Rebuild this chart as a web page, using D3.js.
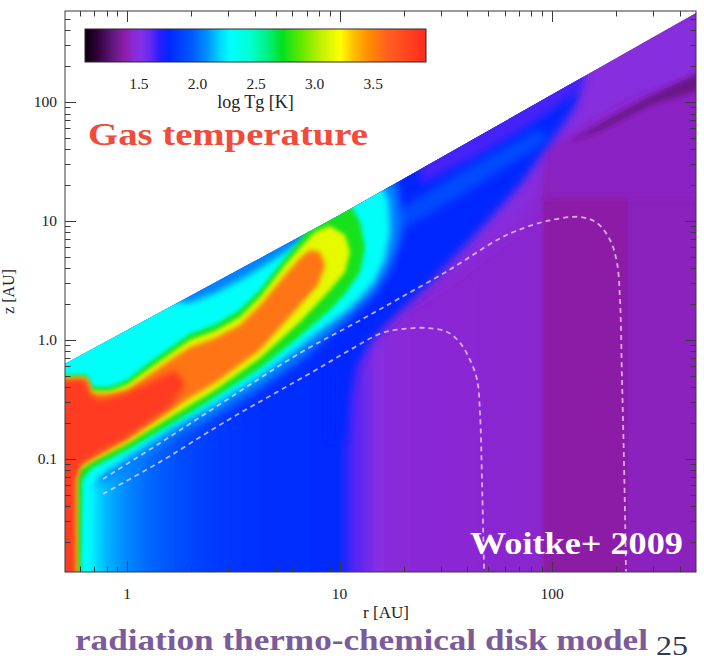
<!DOCTYPE html>
<html>
<head>
<meta charset="utf-8">
<script src="https://cdn.jsdelivr.net/npm/d3@7"></script>
<style>
  html, body { margin: 0; padding: 0; background: #ffffff; }
  svg { display: block; }
  text { font-family: "Liberation Serif", "DejaVu Serif", serif; }
  .axislabel { font-family: "DejaVu Serif", "Liberation Serif", serif; }
</style>
</head>
<body>
<svg id="chart" width="704" height="662"></svg>
<script>
// ---- colour table: log Tg [K] -> colour ----
const cmapValues = [1.04, 1.12, 1.2, 1.28, 1.37, 1.45, 1.52, 1.6, 1.68, 1.76, 1.95, 2.08, 2.2, 2.28, 2.45, 2.6, 2.72, 2.88, 3.05, 3.22, 3.33, 3.45, 3.62, 3.95];
const cmapColors = ["#0a000c", "#28002e", "#460a55", "#601880", "#8c1ca6", "#8a28d4", "#8430e6", "#6028f2", "#2a1cff", "#0028ff", "#0058ff", "#0090ff", "#00dcff", "#00ffff", "#00ffd0", "#00f080", "#00e020", "#60e800", "#c0f000", "#ffff00", "#ffc000", "#ff9000", "#ff6020", "#ff2a20"];
const cbarTicks = [1.5, 2.0, 2.5, 3.0, 3.5];
const cbarTickLabels = ["1.5", "2.0", "2.5", "3.0", "3.5"];

// ---- axes ----
const xTicks = [1, 10, 100];
const xTickLabels = ["1", "10", "100"];
const yTicks = [0.1, 1, 10, 100];
const yTickLabels = ["0.1", "1.0", "10", "100"];

// ---- disk surface z(r) [AU] ----
const surface = [[0.51, 0.63], [10, 11.2], [476, 560]];

// ---- midplane temperature profile: [r, log Tg] ----
const midplaneProfile = [
  [0.45, 2.25], [0.7, 2.22], [0.8, 2.14], [1.0, 2.06], [1.3, 1.98], [1.8, 1.9], [2.6, 1.83],
  [4.0, 1.79], [9.8, 1.77], [11.7, 1.62], [15, 1.5], [19, 1.46], [30, 1.45], [88, 1.44],
  [93, 1.37], [218, 1.37], [234, 1.41], [520, 1.41]
];

// ---- iso-temperature regions, outlines as [r, z] ----
const violetHalo = [[15.5, 39.5], [520, 700], [520, 150], [259.5, 96.2], [168.2, 60.5], [109, 38.0], [87.8, 20.1], [70.7, 10.2], [45.8, 5.71], [29.7, 3.19], [19.26, 1.97], [13.9, 1.21]];
const capPurple = [[92.7, 39.5], [259.5, 103.9], [520, 165], [520, 15.9], [92.7, 15.9]];
const darkStreak = [[520, 185], [289, 112], [168, 65], [121, 46], [168, 57], [289, 94], [520, 130]];
const blueWedge = [[9.02, 39.5], [128.3, 332], [132.6, 103.9], [115, 67.9], [95.8, 43.5], [70.7, 20.1], [43.4, 7.63], [26.7, 3.01], [18.25, 1.59], [14.22, 1.0], [11.96, 0.617], [10.96, 0.313], [10.6, 0.144], [9.02, 0.144]];
const indigoSkin = [[23.9, 70.6], [135.5, 403], [143, 139], [109, 94.4], [70.7, 56.0], [45.8, 35.9], [29.7, 24.4], [23.9, 20.1]];
const blueStripe = [[15.5, 9.81], [36.9, 25.8], [87.8, 60.5], [95.8, 47.9], [41.1, 18.2], [16.37, 6.92]];
const warmHalo = [[0.45, 2.17], [17.29, 39.5], [19.26, 13.6], [19.26, 6.92], [17.29, 4.03], [14.69, 2.48], [10.6, 1.42], [6.52, 0.679], [4.23, 0.395], [2.6, 0.234], [1.59, 0.144], [1.0, 0.0809], [0.707, 0.0605], [0.45, 0.0549]];
const atmosphereCyan = [[0.45, 2.17], [1.283, 2.17], [1.979, 2.05], [2.595, 2.48], [3.402, 3.19], [4.226, 4.03], [5.54, 5.49], [6.52, 6.66], [7.67, 10.2], [9.02, 18.2], [14.69, 26.8], [16.91, 15.0], [17.29, 8.40], [16.37, 4.89], [14.69, 3.19], [12.49, 2.25], [10.6, 1.72], [7.67, 1.12], [6.52, 0.890], [4.23, 0.498], [2.6, 0.290], [1.594, 0.175], [1.0, 0.102], [0.746, 0.0720], [0.684, 0.0549], [0.67, 0.008], [0.45, 0.008]];
const layerGreen = [[0.45, 0.498], [0.641, 0.508], [0.684, 0.403], [0.832, 0.403], [1.0, 0.461], [1.283, 0.653], [1.594, 0.857], [1.979, 1.12], [2.595, 1.34], [3.402, 1.79], [4.226, 2.63], [5.54, 4.89], [6.52, 6.92], [7.67, 11.2], [10.6, 16.5], [12.49, 9.81], [13.18, 5.93], [12.49, 3.73], [10.6, 2.44], [9.02, 1.79], [6.52, 1.08], [4.226, 0.582], [2.595, 0.332], [1.979, 0.244], [1.0, 0.119], [0.684, 0.084], [0.614, 0.0666], [0.601, 0.008], [0.45, 0.008]];
const layerYellow = [[0.45, 0.479], [0.641, 0.489], [0.684, 0.373], [0.832, 0.373], [1.0, 0.419], [1.283, 0.582], [1.594, 0.763], [1.979, 1.0], [2.595, 1.19], [3.402, 1.56], [4.226, 2.30], [5.54, 4.27], [6.52, 5.93], [7.67, 8.08], [9.02, 9.08], [10.6, 7.63], [11.2, 5.49], [10.6, 3.73], [9.02, 2.63], [6.52, 1.42], [4.226, 0.706], [2.595, 0.380], [1.979, 0.284], [1.0, 0.134], [0.684, 0.0944], [0.601, 0.0809], [0.582, 0.0666], [0.582, 0.008], [0.45, 0.008]];
const layerOrange = [[0.45, 0.461], [0.641, 0.470], [0.684, 0.352], [0.832, 0.352], [1.0, 0.380], [1.283, 0.518], [1.594, 0.679], [1.979, 0.873], [2.595, 1.04], [3.402, 1.34], [4.226, 1.97], [5.54, 3.52], [6.52, 4.89], [7.26, 5.71], [8.09, 5.49], [8.55, 4.27], [7.92, 2.90], [6.52, 1.97], [4.226, 0.824], [2.595, 0.435], [1.979, 0.326], [1.0, 0.144], [0.684, 0.100], [0.601, 0.0873], [0.572, 0.0666], [0.572, 0.008], [0.45, 0.008]];
const innerRed = [[0.45, 0.452], [0.528, 0.461], [0.601, 0.470], [0.641, 0.461], [0.67, 0.345], [0.746, 0.313], [1.0, 0.359], [1.283, 0.444], [1.682, 0.560], [1.875, 0.419], [1.594, 0.274], [1.0, 0.153], [0.684, 0.104], [0.601, 0.0891], [0.569, 0.0666], [0.569, 0.008], [0.45, 0.008]];

// log Tg of each region
const regionLogT = [1.49, 1.42, 1.3, 1.75, 1.64, 1.9, 2.05, 2.3, 2.75, 3.15, 3.55, 3.85];

// ---- dashed contours, [r, z] ----
const contourUpper = [[0.771, 0.0679], [1.43, 0.136], [2.89, 0.307], [6.52, 0.777], [12.35, 1.444], [19.26, 2.254], [32.8, 3.875], [55.1, 6.92], [67.7, 8.24], [94.7, 10.0], [135.5, 10.8], [162.8, 9.62], [187.5, 6.92], [202.2, 4.44], [208.9, 2.17], [213.5, 0.461], [218.2, 0.0908], [223, 0.0112]];
const contourLower = [[0.771, 0.0508], [1.43, 0.0944], [2.89, 0.205], [7.59, 0.549], [11.2, 0.824], [15.85, 1.145], [20.1, 1.237], [25.8, 1.261], [32.1, 1.167], [36.9, 0.944], [41.1, 0.679], [44.4, 0.461], [45.8, 0.2435], [46.8, 0.0666], [47.9, 0.0112]];

// ================= drawing =================
const svg = d3.select("#chart");
const defs = svg.append("defs");

const x = d3.scaleLog().domain([0.51, 476]).range([65, 696]);
const y = d3.scaleLog().domain([0.0112, 582]).range([572, 11]);
const tColor = d3.scaleLinear().domain(cmapValues).range(cmapColors).interpolate(d3.interpolateRgb).clamp(true);

const regionShape = d3.line().x(d => x(d[0])).y(d => y(d[1])).curve(d3.curveLinearClosed);
const smoothPath = d3.line().x(d => x(d[0])).y(d => y(d[1])).curve(d3.curveCatmullRom.alpha(0.5));
const straight = d3.line().x(d => x(d[0])).y(d => y(d[1]));

let filterCount = 0;
function blur(sd) {
  const id = "blur" + (filterCount++);
  defs.append("filter").attr("id", id)
    .attr("filterUnits", "userSpaceOnUse")
    .attr("x", -100).attr("y", -100).attr("width", 904).attr("height", 862)
    .append("feGaussianBlur").attr("stdDeviation", sd);
  return "url(#" + id + ")";
}

// disk body (below the surface) used as clip
const [r0, r1] = x.domain();
const [z0, z1] = y.domain();
const diskOutline = surface.concat([[r1, z0], [r0, z0]]);
defs.append("clipPath").attr("id", "disk")
  .append("path").attr("d", straight(diskOutline) + "Z");

const field = svg.append("g").attr("clip-path", "url(#disk)");

// radial (midplane) temperature gradient as the base of the disk
const gx1 = x(midplaneProfile[0][0]);
const gx2 = x(midplaneProfile[midplaneProfile.length - 1][0]);
const mid = defs.append("linearGradient").attr("id", "midplane")
  .attr("gradientUnits", "userSpaceOnUse")
  .attr("x1", gx1).attr("x2", gx2).attr("y1", 0).attr("y2", 0);
midplaneProfile.forEach(([r, t]) => {
  mid.append("stop").attr("offset", (x(r) - gx1) / (gx2 - gx1)).attr("stop-color", tColor(t));
});
field.append("rect")
  .attr("x", gx1).attr("width", gx2 - gx1)
  .attr("y", y(900)).attr("height", y(0.008) - y(900))
  .attr("fill", "url(#midplane)")
  .attr("filter", blur(1.2));

// iso-temperature regions, from the coolest overlay to the hottest
const regions = [violetHalo, capPurple, darkStreak, blueWedge, indigoSkin, blueStripe,
                 warmHalo, atmosphereCyan, layerGreen, layerYellow, layerOrange, innerRed];
const softness = [9, 4, 2.5, 5, 4, 5, 4, 3, 2.2, 2, 2.6, 3];
regions.forEach((pts, i) => {
  field.append("path")
    .attr("d", regionShape(pts))
    .attr("fill", tColor(regionLogT[i]))
    .attr("filter", blur(softness[i]));
});

// dashed contours
[contourUpper, contourLower].forEach(c => {
  field.append("path")
    .attr("d", smoothPath(c))
    .attr("fill", "none")
    .attr("stroke", "#f6d8ff")
    .attr("stroke-opacity", 0.75)
    .attr("stroke-width", 1.8)
    .attr("stroke-dasharray", "5,4");
});

// ---- frame and ticks ----
const [px0, px1] = x.range();
const [py0, py1] = y.range();
const axisG = svg.append("g").attr("stroke", "#3a3a3a").attr("stroke-width", 1);
axisG.append("rect").attr("x", px0).attr("y", py1).attr("width", px1 - px0).attr("height", py0 - py1)
  .attr("fill", "none");

x.ticks().forEach(v => {
  const len = xTicks.includes(v) ? 11 : 5.5;
  const xx = Math.round(x(v)) + 0.5;
  axisG.append("line").attr("x1", xx).attr("x2", xx).attr("y1", py0).attr("y2", py0 - len);
  axisG.append("line").attr("x1", xx).attr("x2", xx).attr("y1", py1).attr("y2", py1 + len);
});
y.ticks().forEach(v => {
  const len = yTicks.some(t => Math.abs(t - v) < 1e-9) ? 11 : 5.5;
  const yy = Math.round(y(v)) + 0.5;
  axisG.append("line").attr("y1", yy).attr("y2", yy).attr("x1", px0).attr("x2", px0 + len);
  axisG.append("line").attr("y1", yy).attr("y2", yy).attr("x1", px1).attr("x2", px1 - len);
});

const labelG = svg.append("g").attr("class", "axislabel").attr("fill", "#222222").attr("font-size", 15.5);
xTicks.forEach((v, i) => {
  labelG.append("text").attr("x", x(v)).attr("y", 599).attr("text-anchor", "middle").text(xTickLabels[i]);
});
yTicks.forEach((v, i) => {
  labelG.append("text").attr("x", px0 - 8).attr("y", y(v) + 5.5).attr("text-anchor", "end").text(yTickLabels[i]);
});
labelG.append("text").attr("x", 386).attr("y", 618).attr("font-size", 17).attr("text-anchor", "middle").text("r [AU]");
labelG.append("text")
  .attr("transform", "translate(14," + ((py0 + py1) / 2) + ") rotate(-90)")
  .attr("font-size", 16)
  .attr("text-anchor", "middle").text("z [AU]");

// ---- colour bar ----
const cbx = d3.scaleLinear().domain([cmapValues[0], cmapValues[cmapValues.length - 1]]).range([85, 426]);
const cbGrad = defs.append("linearGradient").attr("id", "cbar")
  .attr("x1", 0).attr("x2", 1).attr("y1", 0).attr("y2", 0);
cmapValues.forEach((v, i) => {
  cbGrad.append("stop")
    .attr("offset", (cbx(v) - cbx.range()[0]) / (cbx.range()[1] - cbx.range()[0]))
    .attr("stop-color", cmapColors[i]);
});
svg.append("rect")
  .attr("x", cbx.range()[0]).attr("y", 29)
  .attr("width", cbx.range()[1] - cbx.range()[0]).attr("height", 33)
  .attr("fill", "url(#cbar)").attr("stroke", "#2a2a2a").attr("stroke-width", 1);
cbarTicks.forEach((v, i) => {
  labelG.append("text").attr("x", cbx(v)).attr("y", 89).attr("text-anchor", "middle").text(cbarTickLabels[i]);
});
labelG.append("text").attr("x", (cbx.range()[0] + cbx.range()[1]) / 2).attr("y", 108)
  .attr("font-size", 18).attr("text-anchor", "middle").text("log Tg [K]");

// ---- annotations ----
svg.append("text").attr("x", 88).attr("y", 145)
  .attr("font-size", 32).attr("font-weight", "bold").attr("fill", "#f24b3c")
  .attr("textLength", 280).attr("lengthAdjust", "spacingAndGlyphs")
  .text("Gas temperature");
svg.append("text").attr("x", 470).attr("y", 554)
  .attr("font-size", 31).attr("font-weight", "bold").attr("fill", "#ffffff")
  .attr("textLength", 213).attr("lengthAdjust", "spacingAndGlyphs")
  .text("Woitke+ 2009");
svg.append("text").attr("x", 75).attr("y", 650)
  .attr("font-size", 30).attr("font-weight", "bold").attr("fill", "#7a5b9b")
  .attr("textLength", 573).attr("lengthAdjust", "spacingAndGlyphs")
  .text("radiation thermo-chemical disk model");
svg.append("text").attr("x", 656).attr("y", 655)
  .attr("font-size", 27).attr("fill", "#2e3b4c")
  .attr("textLength", 32).attr("lengthAdjust", "spacingAndGlyphs")
  .text("25");
</script>
</body>
</html>
